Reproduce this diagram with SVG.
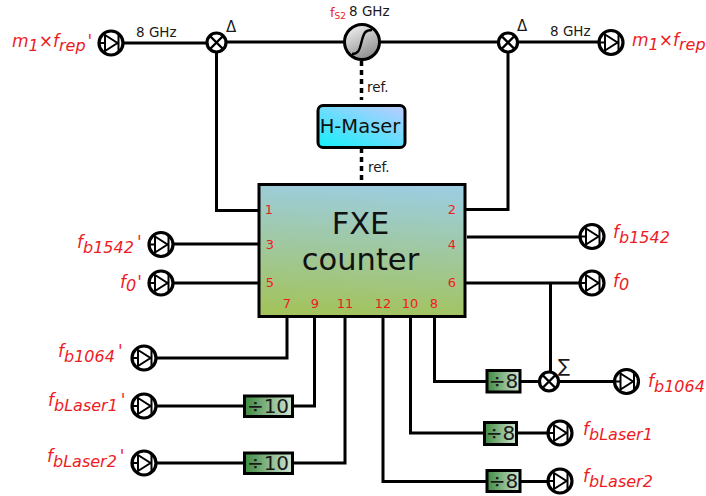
<svg xmlns="http://www.w3.org/2000/svg" xmlns:xlink="http://www.w3.org/1999/xlink" width="706" height="496" viewBox="0 0 706 496">
<style>
text{font-family:"DejaVu Sans",sans-serif}
.w{fill:none;stroke:#000;stroke-width:3}
.d{fill:none;stroke:#000;stroke-width:3.5;stroke-dasharray:5 4}
.l{font-size:13.500px;fill:#1a1a1a}
.s{font-style:italic;font-size:17px;fill:#ed1c24}
.s .u{font-size:16px}
.n{font-size:13px;fill:#ed1c24;text-anchor:middle}
.dv{font-size:20px;fill:#1a1a1a;text-anchor:middle}
.dbox{stroke:#000;stroke-width:3;fill:url(#gd)}
</style>
<defs>
<linearGradient id="gd" x1="0" y1="0" x2="1" y2="0"><stop offset="0" stop-color="#3d8a40"/><stop offset="1" stop-color="#d3e5d3"/></linearGradient>
<linearGradient id="gf" x1="0.55" y1="0" x2="0.45" y2="1"><stop offset="0" stop-color="#9ccde0"/><stop offset="1" stop-color="#a3c35c"/></linearGradient>
<linearGradient id="gm" x1="0.1" y1="1" x2="0.9" y2="0"><stop offset="0" stop-color="#1aeefa"/><stop offset="1" stop-color="#b8ccff"/></linearGradient>
<linearGradient id="gs" x1="0.2" y1="0" x2="0.7" y2="1"><stop offset="0" stop-color="#f2f2f2"/><stop offset="1" stop-color="#8a8a8a"/></linearGradient>
<g id="pd">
<circle r="12" fill="#fff" stroke="#000" stroke-width="3.200"/>
<path d="M-12 0H-6M-6-8V8L6.500 0ZM7.500-9V9" fill="none" stroke="#000" stroke-width="2"/>
</g>
<g id="mx">
<circle r="9.500" fill="#fff" stroke="#000" stroke-width="3.200"/>
<path d="M-6.500-6.500L6.500 6.500M-6.500 6.500L6.500-6.500" stroke="#000" stroke-width="2.400"/>
</g>
</defs>
<rect width="706" height="496" fill="#fff"/>
<g id="connectors">
<path class="w" d="M123 43H207M226 42H344M380 42H499M518 42H599"/>
<path class="w" d="M216.500 52V210.500H259"/>
<path class="w" d="M508 52V209.500H465"/>
<path class="w" d="M173 244H259M173 283H259"/>
<path class="w" d="M467 237H580M465 283H580"/>
<path class="w" d="M287 316V358H156"/>
<path class="w" d="M314.500 316V406H292M244 406H156"/>
<path class="w" d="M345 316V463H292M244 463H156"/>
<path class="w" d="M383 316V481.500H487M520 481.500H548"/>
<path class="w" d="M410.500 316V433H484M517 433H548"/>
<path class="w" d="M434.500 316V381.500H487M520 381.500H539M559 381.500H615"/>
<path class="w" d="M550.500 283V372"/>
<path class="d" d="M361.500 61V100M361.500 148V184"/>
</g>
<g id="fxe">
<rect x="259" y="184.500" width="206" height="132" fill="url(#gf)" stroke="#000" stroke-width="3"/>
<text x="360.500" y="234" font-size="30.500" text-anchor="middle" fill="#111">FXE</text>
<text x="360.500" y="270" font-size="30.500" text-anchor="middle" fill="#111">counter</text>
<text class="n" x="269" y="214">1</text><text class="n" x="452" y="214">2</text>
<text class="n" x="270" y="249">3</text><text class="n" x="452" y="249">4</text>
<text class="n" x="270" y="287">5</text><text class="n" x="452" y="287">6</text>
<text class="n" x="287" y="308">7</text><text class="n" x="315" y="308">9</text>
<text class="n" x="345" y="308">11</text><text class="n" x="383" y="308">12</text>
<text class="n" x="410" y="308">10</text><text class="n" x="434" y="308">8</text>
</g>
<g id="maser">
<rect x="318" y="105.500" width="87" height="42" rx="5" fill="url(#gm)" stroke="#000" stroke-width="3"/>
<text x="360" y="133" font-size="19.500" text-anchor="middle" fill="#111">H-Maser</text>
<text class="l" x="367" y="92">ref.</text>
<text class="l" x="368" y="172">ref.</text>
</g>
<g id="synth">
<circle cx="362" cy="42" r="17.500" fill="url(#gs)" stroke="#000" stroke-width="3"/>
<path d="M352 54C360 54 360 47 362 40C364 33 365 30 372 30" fill="none" stroke="#000" stroke-width="2.400"/>
<text x="330" y="17" font-size="13" fill="#ed1c24">f<tspan font-size="9" dy="2">S2</tspan></text>
<text class="l" x="349" y="16">8 GHz</text>
</g>
<g id="mixer-left"><use href="#mx" x="216.500" y="42.500"/><text x="226" y="32" font-size="15" fill="#1a1a1a">Δ</text></g>
<g id="mixer-right"><use href="#mx" x="508" y="42.500"/><text x="517" y="31" font-size="15" fill="#1a1a1a">Δ</text></g>
<g id="mixer-sum"><use href="#mx" x="549" y="381.500"/><text x="558" y="372" font-size="18" fill="#1a1a1a">∑</text></g>
<g id="pd-mrep-p"><use href="#pd" x="111" y="43"/><text class="l" x="136" y="37">8 GHz</text>
<text class="s" x="12" y="47">m<tspan class="u" dy="4">1</tspan><tspan dy="-4">×f</tspan><tspan class="u" dy="4">rep</tspan><tspan dx="2" dy="-4">'</tspan></text></g>
<g id="pd-mrep"><use href="#pd" x="611" y="42.500"/><text class="l" x="550" y="36">8 GHz</text>
<text class="s" x="632" y="46">m<tspan class="u" dy="4">1</tspan><tspan dy="-4">×f</tspan><tspan class="u" dy="4">rep</tspan></text></g>
<g id="pd-b1542-p"><use href="#pd" x="161" y="244.500"/><text class="s" x="77" y="248">f<tspan class="u" dy="5">b1542</tspan><tspan dx="3" dy="-5">'</tspan></text></g>
<g id="pd-f0-p"><use href="#pd" x="161" y="283"/><text class="s" x="120" y="288">f<tspan class="u" dy="3">0</tspan><tspan dx="1" dy="-3">'</tspan></text></g>
<g id="pd-b1542"><use href="#pd" x="592" y="236.500"/><text class="s" x="613" y="238">f<tspan class="u" dy="5">b1542</tspan></text></g>
<g id="pd-f0"><use href="#pd" x="592" y="283"/><text class="s" x="613" y="287">f<tspan class="u" dy="3">0</tspan></text></g>
<g id="pd-b1064-p"><use href="#pd" x="144" y="358"/><text class="s" x="58" y="357">f<tspan class="u" dy="5">b1064</tspan><tspan dx="3" dy="-5">'</tspan></text></g>
<g id="pd-l1-p"><use href="#pd" x="144" y="406"/><text class="s" x="48" y="406">f<tspan class="u" dy="5">bLaser1</tspan><tspan dx="3" dy="-5">'</tspan></text></g>
<g id="pd-l2-p"><use href="#pd" x="144" y="463"/><text class="s" x="47" y="462">f<tspan class="u" dy="5">bLaser2</tspan><tspan dx="3" dy="-5">'</tspan></text></g>
<g id="div10-1"><rect class="dbox" x="244.500" y="396" width="48" height="20.500"/><text class="dv" x="268" y="413">÷10</text></g>
<g id="div10-2"><rect class="dbox" x="244.500" y="453" width="48" height="20.500"/><text class="dv" x="268" y="470">÷10</text></g>
<g id="div8-1"><rect class="dbox" x="487" y="370.500" width="33" height="21.500"/><text class="dv" x="503.500" y="388">÷8</text></g>
<g id="div8-2"><rect class="dbox" x="484.500" y="422.500" width="32" height="22"/><text class="dv" x="500.500" y="440">÷8</text></g>
<g id="div8-3"><rect class="dbox" x="487" y="470.500" width="33" height="21"/><text class="dv" x="503.500" y="488">÷8</text></g>
<g id="pd-b1064"><use href="#pd" x="626.500" y="381.500"/><text class="s" x="648" y="387">f<tspan class="u" dy="5">b1064</tspan></text></g>
<g id="pd-l1"><use href="#pd" x="560" y="433"/><text class="s" x="583" y="435">f<tspan class="u" dy="5">bLaser1</tspan></text></g>
<g id="pd-l2"><use href="#pd" x="560" y="481"/><text class="s" x="583" y="482">f<tspan class="u" dy="5">bLaser2</tspan></text></g>
</svg>
